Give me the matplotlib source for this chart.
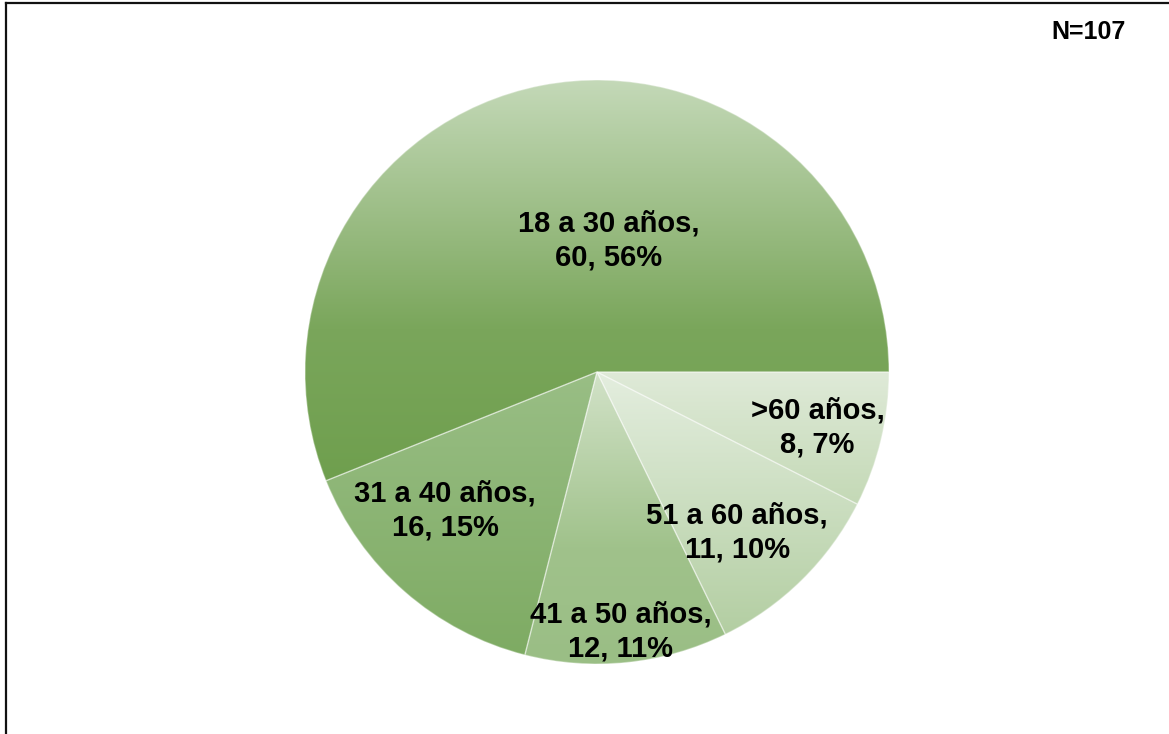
import numpy as np
import matplotlib
matplotlib.use("Agg")
import matplotlib.pyplot as plt
from matplotlib.colors import to_rgb
from matplotlib.lines import Line2D

plt.rcParams['font.family'] = ['Liberation Sans', 'DejaVu Sans']

# age groups, counts
grupos = ['18 a 30 años', '31 a 40 años', '41 a 50 años', '51 a 60 años', '>60 años']
casos = [60, 16, 12, 11, 8]
total = 107

# gradient stops per slice, top -> bottom of each wedge
colores = [[(0.0, '#c4d9b8'), (0.62, '#7aa65b'), (1.0, '#6f9f4e')],
           [(0.0, '#99be85'), (1.0, '#7eab63')],
           [(0.0, '#d2e2c8'), (0.6, '#a0c28b'), (1.0, '#9abe85')],
           [(0.0, '#e4eedf'), (1.0, '#b3cea2')],
           [(0.0, '#dfead8'), (1.0, '#c4d9b6')]]

# label anchor in units of the pie radius
pos_etiq = [(0.041, 0.45), (-0.52, -0.475), (0.082, -0.89), (0.48, -0.55), (0.755, -0.19)]

W, H = 1169, 734
fig = plt.figure(figsize=(W / 100, H / 100), dpi=100)
ax = fig.add_axes([0, 0, 1, 1])

cx, cy, r = 597, H - 372, 292
wedges, _ = ax.pie(casos, startangle=0, counterclock=True, center=(cx, cy), radius=r,
                   wedgeprops=dict(facecolor='none', edgecolor=(1, 1, 1, 0.35), linewidth=1))
ax.set_xlim(0, W)
ax.set_ylim(0, H)
ax.set_aspect('equal')
ax.axis('off')

t = np.linspace(0, 1, 512)
for w, stops in zip(wedges, colores):
    x0, y0, x1, y1 = w.get_path().get_extents().extents
    pos = [s[0] for s in stops]
    rgb = np.array([to_rgb(s[1]) for s in stops])
    grad = np.stack([np.interp(t, pos, rgb[:, k]) for k in range(3)], axis=-1)
    im = ax.imshow(grad[:, None, :], extent=[x0, x1, y0, y1], origin='upper',
                   aspect='auto', interpolation='bilinear', zorder=1)
    im.set_clip_path(w)
    w.set_zorder(2)

for g, n, (px, py) in zip(grupos, casos, pos_etiq):
    pct = round(100 * n / total)
    ax.text(cx + px * r, cy + py * r, f'{g},\n{n}, {pct}%', ha='center', va='center',
            fontsize=21, fontweight='bold', color='black', linespacing=1.27, zorder=3)

fig.text(1089 / W, 1 - 32 / H, f'N={total}', ha='center', va='center',
         fontsize=18, fontweight='bold')

# outer frame (top and left edges)
fig.add_artist(Line2D([6 / W, 6 / W], [0, 1 - 3 / H], transform=fig.transFigure,
                      color='#111111', linewidth=1.6))
fig.add_artist(Line2D([6 / W, 1], [1 - 3 / H, 1 - 3 / H], transform=fig.transFigure,
                      color='#111111', linewidth=1.6))

fig.savefig('out.png', dpi=100, facecolor='white')
